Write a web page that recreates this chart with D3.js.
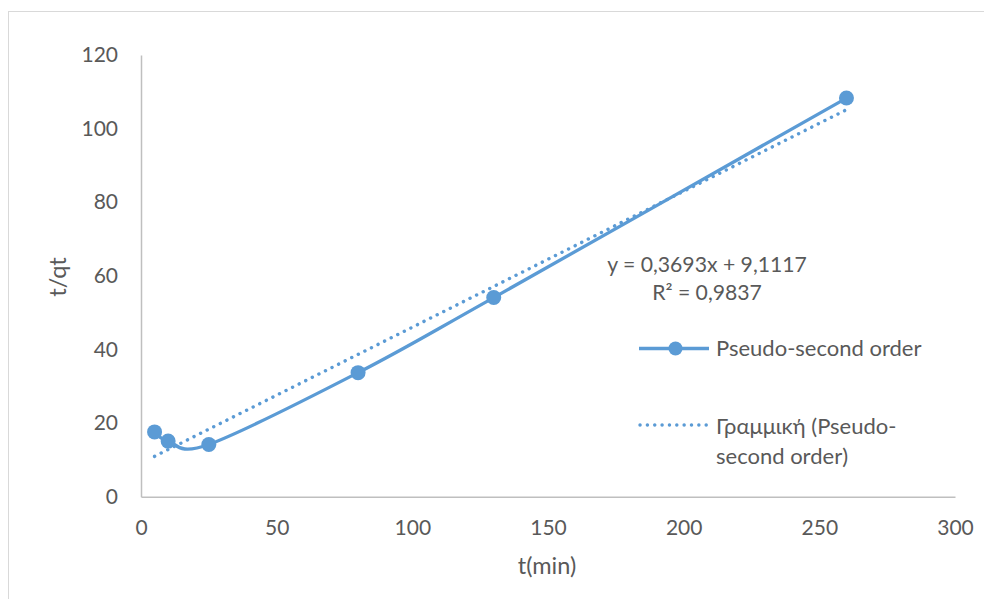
<!DOCTYPE html>
<html>
<head>
<meta charset="utf-8">
<script src="https://cdn.jsdelivr.net/npm/d3@7/dist/d3.min.js"></script>
<style>
  html, body { margin: 0; padding: 0; background: #ffffff; }
  svg { display: block; }
  text { font-family: Lato, "Open Sans", sans-serif; fill: #595959; }
</style>
</head>
<body>
<svg id="chart" width="984" height="599"></svg>
<script>
// Contact time (min) and t/qt for the pseudo-second order kinetic model
const times = [5, 10, 25, 80, 130, 260];
const tOverQt = [17.6, 15.1, 14.2, 33.7, 54.1, 108.3];

// Linear trendline reported on the chart
const slope = 0.3693;
const intercept = 9.1117;
const equationText = "y = 0,3693x + 9,1117";
const r2Text = "R\u00b2 = 0,9837";

const xTicks = [0, 50, 100, 150, 200, 250, 300];
const yTicks = [0, 20, 40, 60, 80, 100, 120];

const seriesName = "Pseudo-second order";
const trendNameLines = ["\u0393\u03c1\u03b1\u03bc\u03bc\u03b9\u03ba\u03ae (Pseudo-", "second order)"];

const color = "#5b9bd5";
const axisColor = "#bfbfbf";

const svg = d3.select("#chart");

// outer chart frame
svg.append("rect")
  .attr("x", 8.5).attr("y", 11.5)
  .attr("width", 990).attr("height", 600)
  .attr("fill", "none").attr("stroke", "#d9d9d9").attr("stroke-width", 1);

const x = d3.scaleLinear().domain([0, 300]).range([141, 955]);
const y = d3.scaleLinear().domain([0, 120]).range([496.7, 55]);

// axes
const xAxis = svg.append("g").attr("transform", `translate(0,${y(0)})`)
  .call(d3.axisBottom(x).tickValues(xTicks).tickSize(0).tickPadding(22));
const yAxis = svg.append("g").attr("transform", `translate(${x(0)},0)`)
  .call(d3.axisLeft(y).tickValues(yTicks).tickSize(0).tickPadding(23));

[xAxis, yAxis].forEach(g => {
  g.select(".domain").attr("stroke", axisColor).attr("stroke-width", 1.5);
  g.selectAll("text").attr("font-size", 21).attr("fill", "#595959")
    .attr("font-family", "Lato, 'Open Sans', sans-serif");
});
xAxis.selectAll("text").attr("dy", "0.32em").attr("y", 32);

// axis titles
svg.append("text")
  .attr("x", 547).attr("y", 566).attr("dy", "0.35em")
  .attr("text-anchor", "middle").attr("font-size", 23.5)
  .text("t(min)");
svg.append("text")
  .attr("transform", "translate(58,277) rotate(-90)")
  .attr("dy", "0.35em")
  .attr("text-anchor", "middle").attr("font-size", 23.5)
  .text("t/qt");

// linear trendline over the data range
const tx = d3.extent(times);
svg.append("line")
  .attr("x1", x(tx[0])).attr("y1", y(slope * tx[0] + intercept))
  .attr("x2", x(tx[1])).attr("y2", y(slope * tx[1] + intercept))
  .attr("stroke", color).attr("stroke-width", 3.4)
  .attr("stroke-linecap", "round").attr("stroke-dasharray", "0.1 7.25");

// smoothed series line
const pts = times.map((t, i) => [t, tOverQt[i]]);
svg.append("path")
  .datum(pts)
  .attr("d", d3.line().x(d => x(d[0])).y(d => y(d[1])).curve(d3.curveCatmullRom.alpha(0)))
  .attr("fill", "none").attr("stroke", color).attr("stroke-width", 3.3);

svg.selectAll("circle.pt")
  .data(pts).enter().append("circle")
  .attr("class", "pt")
  .attr("cx", d => x(d[0])).attr("cy", d => y(d[1]))
  .attr("r", 7.5).attr("fill", color);

// trendline equation and R²
const eq = svg.append("text").attr("text-anchor", "middle").attr("font-size", 21.2);
eq.append("tspan").attr("x", 707).attr("y", 265).attr("dy", "0.35em").text(equationText);
eq.append("tspan").attr("x", 707).attr("y", 293).attr("dy", "0.35em").text(r2Text);

// legend
const lg = svg.append("g");
lg.append("line").attr("x1", 639).attr("x2", 709).attr("y1", 348.5).attr("y2", 348.5)
  .attr("stroke", color).attr("stroke-width", 3.3);
lg.append("circle").attr("cx", 675.5).attr("cy", 348.5).attr("r", 7).attr("fill", color);
lg.append("text").attr("x", 716).attr("y", 348.5).attr("dy", "0.35em")
  .attr("font-size", 22).text(seriesName);

lg.append("line").attr("x1", 640).attr("x2", 709).attr("y1", 425).attr("y2", 425)
  .attr("stroke", color).attr("stroke-width", 3.4)
  .attr("stroke-linecap", "round").attr("stroke-dasharray", "0.1 7.25");
const lt = lg.append("text").attr("font-size", 22);
trendNameLines.forEach((s, i) => {
  lt.append("tspan").attr("x", 716).attr("y", 426 + i * 30).attr("dy", "0.35em").text(s);
});
</script>
</body>
</html>
